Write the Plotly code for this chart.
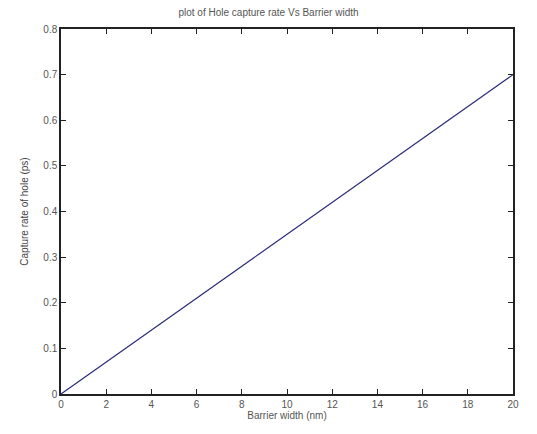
import plotly.graph_objects as go

barrier_width_nm = [0, 2, 4, 6, 8, 10, 12, 14, 16, 18, 20]
capture_rate = [0.0, 0.07, 0.14, 0.21, 0.28, 0.35, 0.42, 0.49, 0.56, 0.63, 0.70]
x_ticks = [0, 2, 4, 6, 8, 10, 12, 14, 16, 18, 20]
y_ticks = [0, 0.1, 0.2, 0.3, 0.4, 0.5, 0.6, 0.7, 0.8]

fig = go.Figure()
fig.add_trace(go.Scatter(x=barrier_width_nm, y=capture_rate, mode="lines",
                         line=dict(color="#2a2a7a", width=1.2)))

axis_common = dict(showgrid=False, zeroline=False, showline=True, linecolor="#222",
                   linewidth=1.5, mirror="ticks", ticks="inside", ticklen=5,
                   tickcolor="#222", tickfont=dict(size=10, color="#555",
                   family="Liberation Sans, Arial"))

fig.update_layout(
    width=537, height=434,
    margin=dict(l=61, r=24, t=29, b=40),
    paper_bgcolor="white", plot_bgcolor="white",
    showlegend=False,
    title=dict(text="plot of Hole capture rate Vs Barrier width", x=0.5, xanchor="center",
               y=1 - 12 / 434, yanchor="middle",
               font=dict(size=10, color="#555", family="Liberation Sans, Arial")),
    xaxis=dict(range=[0, 20], tickvals=x_ticks, ticktext=[str(v) for v in x_ticks],
               title=dict(text="Barrier width (nm)", standoff=1,
                          font=dict(size=10, color="#555", family="Liberation Sans, Arial")),
               **axis_common),
    yaxis=dict(range=[0, 0.8], tickvals=y_ticks, ticktext=["0", "0.1", "0.2", "0.3", "0.4", "0.5", "0.6", "0.7", "0.8"],
               title=dict(text="Capture rate of hole (ps)", standoff=13,
                          font=dict(size=10, color="#444", family="Liberation Sans, Arial")),
               **axis_common),
)

fig.write_html("out.html")
